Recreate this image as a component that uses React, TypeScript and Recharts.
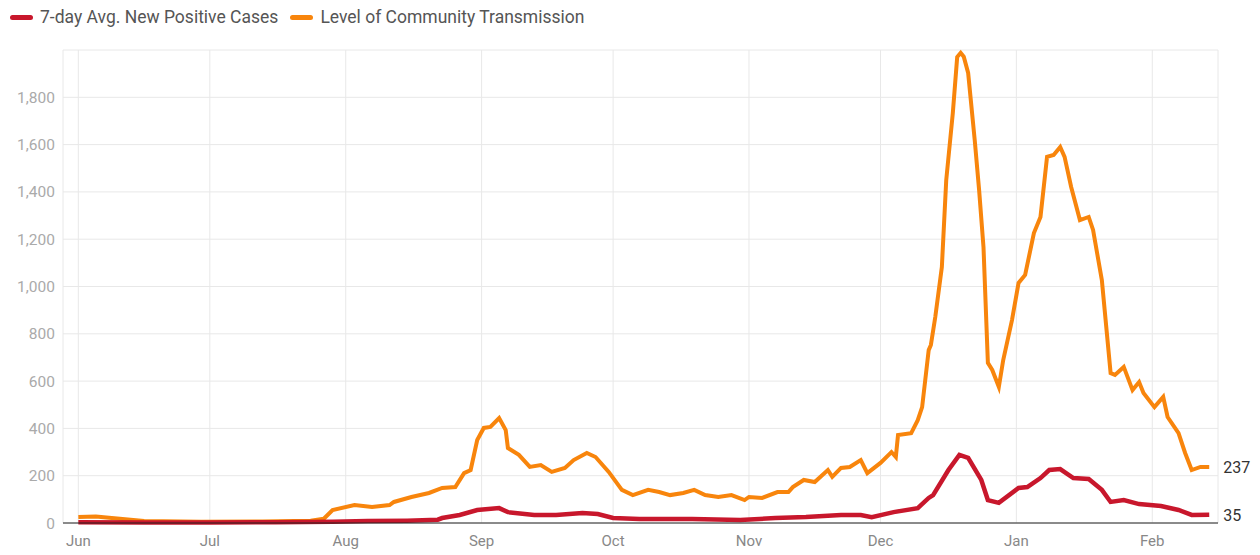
import React from "react";
import {
  LineChart,
  Line,
  CartesianGrid,
  XAxis,
  YAxis,
} from "recharts";

// days counted from Jun 1
const monthTicks = [0, 30, 61, 92, 122, 153, 183, 214, 245];
const monthLabels = ["Jun", "Jul", "Aug", "Sep", "Oct", "Nov", "Dec", "Jan", "Feb"];
const yTicks = [0, 200, 400, 600, 800, 1000, 1200, 1400, 1600, 1800];

const transmissionDays = [
  0, 4, 7, 15, 28, 42, 53, 56, 58, 63, 67, 71, 72, 76, 80, 83, 86, 88, 89.5, 91,
  92.5, 94, 96, 97.5, 98, 100.5, 103, 105.5, 108, 111, 113, 116, 118, 121, 124,
  126.5, 130, 132.5, 135, 138, 140.5, 143, 146, 149, 152, 153, 156, 159.5, 162,
  163, 165.5, 168, 171, 172, 174, 176, 178.5, 180, 183, 185.5, 186.5, 187, 190,
  191.5, 192.5, 194, 194.5, 195.5, 197, 198, 199.5, 200.5, 201.3, 202, 203, 204.5,
  205.5, 206.5, 207.5, 208.5, 210, 211, 213, 214.5, 216, 218, 219.5, 221, 222.5,
  224, 225, 226.5, 228.5, 230.5, 231.5, 233.5, 235.5, 236.5, 238.5, 240.5, 242,
  243, 245.5, 247.5, 248.5, 251, 252.5, 254, 256, 258,
];
const transmissionValues = [
  25, 27, 22, 8, 5, 6, 10, 18, 55, 76, 68, 76, 89, 110, 127, 148, 152, 211, 224,
  351, 402, 406, 444, 393, 317, 288, 237, 245, 216, 233, 266, 296, 279, 216, 140,
  118, 140, 131, 118, 127, 140, 118, 110, 118, 97, 110, 106, 131, 131, 152, 182,
  173, 224, 195, 233, 237, 266, 211, 254, 300, 279, 372, 380, 435, 490, 731, 753,
  871, 1082, 1450, 1733, 1970, 1988, 1972, 1903, 1619, 1408, 1167, 677, 647, 575, 689,
  858, 1015, 1049, 1226, 1294, 1548, 1556, 1590, 1548, 1421, 1281, 1294, 1239,
  1027, 634, 626, 660, 562, 596, 550, 490, 533, 448, 380, 296, 224, 237, 237,
];

const casesDays = [
  0, 15, 30, 45, 58, 66, 75, 82, 83, 87, 91, 96, 98, 104, 109, 115, 118.5, 122,
  128, 140, 151, 159, 166, 174, 178.5, 181, 186, 191.5, 194, 195, 198.5, 201,
  203, 206, 207.5, 210, 214.5, 216.5, 219.5, 221.5, 224, 227, 230.5, 233.5,
  235.5, 238.5, 242, 247, 251, 254, 258,
];
const casesValues = [
  3, 2, 2, 3, 5, 8, 10, 14, 21, 34, 55, 63, 46, 34, 34, 42, 38, 21, 17, 17, 13,
  21, 25, 34, 34, 25, 46, 63, 106, 118, 224, 288, 275, 182, 97, 85, 148, 152,
  190, 224, 228, 190, 186, 140, 89, 97, 80, 72, 55, 34, 35,
];

const transmissionData = transmissionDays.map((d, i) => ({ day: d, value: transmissionValues[i] }));
const casesData = casesDays.map((d, i) => ({ day: d, value: casesValues[i] }));

const ORANGE = "#f8850c";
const RED = "#c8172c";

const legendItems = [
  { label: "7-day Avg. New Positive Cases", color: RED },
  { label: "Level of Community Transmission", color: ORANGE },
];

const endLabel = (count: number) => (props: any) => {
  const { x, y, index, value } = props;
  if (index !== count - 1) return null;
  return (
    <text x={x + 14} y={y} dy={6} fontFamily="Roboto" fontSize={16} fill="#333">
      {value}
    </text>
  );
};

const App: React.FC = () => {
  return (
    <div style={{ position: "absolute", left: 0, top: 0, width: 1260, height: 555, background: "#fff" }}>
      <div
        style={{
          position: "absolute",
          left: 10,
          top: 7,
          display: "flex",
          alignItems: "center",
          fontFamily: "Roboto",
          fontSize: 17.5,
          color: "#555",
          whiteSpace: "nowrap",
          zIndex: 1,
        }}
      >
        {legendItems.map((item) => (
          <div key={item.label} style={{ display: "flex", alignItems: "center", marginRight: 12 }}>
            <span
              style={{
                display: "inline-block",
                width: 23,
                height: 5,
                borderRadius: 3,
                background: item.color,
                marginRight: 7,
              }}
            />
            {item.label}
          </div>
        ))}
      </div>
      <LineChart
        width={1260}
        height={555}
        margin={{ top: 50, right: 42, bottom: 2, left: 0 }}
      >
        <CartesianGrid stroke="#e8e8e8" />
        <XAxis
          dataKey="day"
          type="number"
          domain={[-3.5, 260]}
          ticks={monthTicks}
          tickFormatter={(v: number) => monthLabels[monthTicks.indexOf(v)]}
          allowDuplicatedCategory={false}
          height={30}
          axisLine={{ stroke: "#222" }}
          tickLine={false}
          tickMargin={6}
          tick={{ fill: "#888", fontSize: 15, fontFamily: "Roboto" }}
        />
        <YAxis
          type="number"
          domain={[0, 2000]}
          ticks={yTicks}
          width={63}
          axisLine={false}
          tickLine={false}
          tickFormatter={(v: number) => v.toLocaleString("en-US")}
          tick={{ fill: "#aaa", fontSize: 15.5, fontFamily: "Roboto" }}
        />
        <Line
          data={transmissionData}
          dataKey="value"
          name="Level of Community Transmission"
          type="linear"
          stroke={ORANGE}
          strokeWidth={4}
          dot={false}
          isAnimationActive={false}
          label={endLabel(transmissionData.length)}
        />
        <Line
          data={casesData}
          dataKey="value"
          name="7-day Avg. New Positive Cases"
          type="linear"
          stroke={RED}
          strokeWidth={4.5}
          dot={false}
          isAnimationActive={false}
          label={endLabel(casesData.length)}
        />
      </LineChart>
    </div>
  );
};

export default App;
